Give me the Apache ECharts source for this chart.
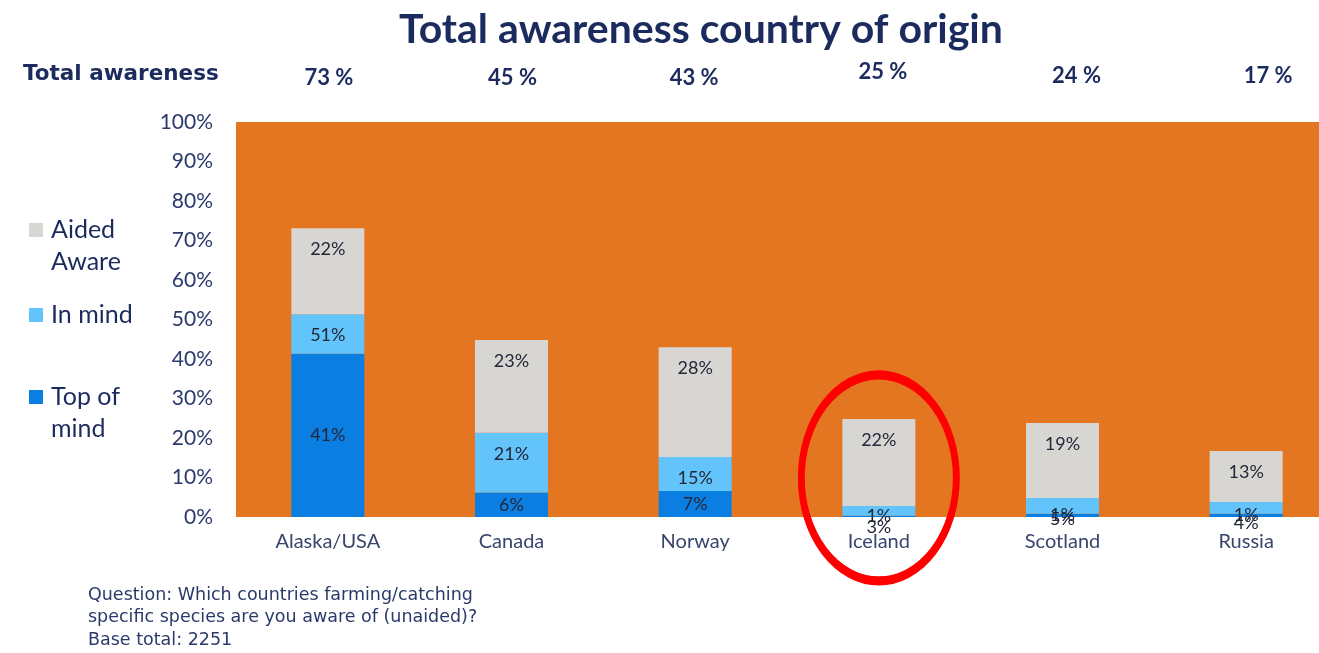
<!DOCTYPE html>
<html>
<head>
<meta charset="utf-8">
<script src="https://cdn.jsdelivr.net/npm/echarts@6/dist/echarts.min.js"></script>
<style>
  html, body { margin: 0; padding: 0; background: #fff; }
  #main { width: 1319px; height: 653px; }
</style>
</head>
<body>
<div id="main"></div>
<script>
// 国家/类目
var countries = ['Alaska/USA', 'Canada', 'Norway', 'Iceland', 'Scotland', 'Russia'];
// 顶部的总认知度
var totals = [73, 45, 43, 25, 24, 17];
// 每段柱子的高度
var topOfMind = [41.3, 6.2, 6.6, 0.3, 0.8, 0.8];
var inMind = [10, 15.1, 8.6, 2.5, 4.0, 3.0];
var aidedAware = [21.8, 23.5, 27.8, 22.0, 19.0, 12.9];
// 柱子上显示的文字
var topOfMindLabels = [41, 6, 7, 1, 1, 1];
var inMindLabels = [51, 21, 15, 3, 5, 4];
var aidedLabels = [22, 23, 28, 22, 19, 13];
// y轴刻度
var yTicks = [0, 10, 20, 30, 40, 50, 60, 70, 80, 90, 100];

var navy = '#1c2b5e';
var font = 'Lato, "Open Sans", sans-serif';

var myChart = echarts.init(document.getElementById('main'));

function barLabel(labels, pos, dist) {
	return {
		show: true,
		position: pos,
		distance: dist,
		color: '#232838',
		fontSize: 18,
		fontFamily: font,
		formatter: function (p) { return labels[p.dataIndex] + '%'; }
	};
}

var legendText = {
	color: navy,
	fontSize: 25,
	lineHeight: 32,
	fontFamily: font,
	padding: [0, 0, 0, 3]
};
// 两行的图例：方块对齐第一行（下方加一个看不见的小点把图标撑高）
var tallIcon = 'path://M0,0L14,0L14,14L0,14Z M0,45.99L0.01,45.99L0.01,46L0,46Z';

// 顶部百分比在原图里不是完全居中，稍微挪一下
var totalStyle = { color: navy, fontSize: 22, fontWeight: 'bold', fontFamily: font };
var totalRich = {
	t0: Object.assign({ padding: [0, 0, 0, 2] }, totalStyle),
	t1: Object.assign({ padding: [0, 0, 0, 2] }, totalStyle),
	t2: Object.assign({ padding: [0, 2, 0, 0] }, totalStyle),
	t3: Object.assign({ padding: [0, 0, 6, 8] }, totalStyle),
	t4: Object.assign({ padding: [0, 0, 2, 28] }, totalStyle),
	t5: Object.assign({ padding: [0, 0, 2, 44] }, totalStyle)
};

var option = {
	textStyle: { fontFamily: font },
	title: [
		{
			text: 'Total awareness country of origin',
			left: 394,
			top: 4,
			textStyle: { color: navy, fontSize: 41, fontWeight: 'bold', fontFamily: font }
		},
		{
			text: 'Total awareness',
			left: 18,
			top: 58,
			textStyle: { color: navy, fontSize: 21.5, fontWeight: 'bold', fontFamily: '"DejaVu Sans"' }
		},
		{
			text: 'Question: Which countries farming/catching\nspecific species are you aware of (unaided)?\nBase total: 2251',
			left: 83,
			top: 579,
			textStyle: { color: '#2b3a6a', fontSize: 17.5, lineHeight: 22.5, fontWeight: 'normal', fontFamily: '"DejaVu Sans"' }
		}
	],
	legend: [
		{
			data: ['Aided Aware'],
			formatter: 'Aided\nAware',
			left: 29, top: 214, padding: 0,
			icon: tallIcon, itemWidth: 14, itemHeight: 46,
			textStyle: legendText
		},
		{
			data: ['In mind'],
			left: 29, top: 299, padding: 0,
			icon: 'rect', itemWidth: 14, itemHeight: 14,
			textStyle: legendText
		},
		{
			data: ['Top of mind'],
			formatter: 'Top of\nmind',
			left: 29, top: 381, padding: 0,
			icon: tallIcon, itemWidth: 14, itemHeight: 46,
			textStyle: legendText
		}
	],
	grid: {
		left: 236,
		width: 1102,
		top: 122,
		bottom: 136,
		outerBoundsMode: 'none',
		containLabel: false,
		show: true,
		backgroundColor: '#e57621',
		borderWidth: 0
	},
	xAxis: [
		{
			type: 'category',
			data: countries,
			axisLine: { show: false },
			axisTick: { show: false },
			axisLabel: { color: '#39456e', fontSize: 20, margin: 15, fontFamily: font }
		},
		{
			type: 'category',
			data: countries,
			position: 'top',
			axisLine: { show: false },
			axisTick: { show: false },
			axisLabel: {
				color: navy,
				fontSize: 22,
				fontWeight: 'bold',
				margin: 33,
				fontFamily: font,
				formatter: function (v, i) { return '{t' + i + '|' + totals[i] + ' %}'; },
				rich: totalRich
			}
		}
	],
	yAxis: {
		type: 'value',
		min: yTicks[0],
		max: yTicks[yTicks.length - 1],
		interval: 10,
		splitLine: { show: false },
		axisLine: { show: false },
		axisTick: { show: false },
		axisLabel: { color: '#2c3a6b', fontSize: 21, margin: 23, fontFamily: font, formatter: '{value}%' }
	},
	series: [
		{
			name: 'Top of mind',
			type: 'bar',
			stack: 'total',
			barWidth: 73,
			itemStyle: { color: '#0b7ee2' },
			label: barLabel(topOfMindLabels, 'inside', 5),
			data: topOfMind,
			markPoint: {
				silent: true,
				symbol: 'circle',
				symbolSize: [155, 206],
				itemStyle: { color: 'rgba(0,0,0,0)', borderColor: '#ff0000', borderWidth: 8 },
				label: { show: false },
				data: [{ coord: ['Iceland', 9.9] }]
			}
		},
		{
			name: 'In mind',
			type: 'bar',
			stack: 'total',
			itemStyle: { color: '#62c4fa' },
			label: barLabel(inMindLabels, 'insideTop', 12),
			data: inMind
		},
		{
			name: 'Aided Aware',
			type: 'bar',
			stack: 'total',
			itemStyle: { color: '#d8d6d3' },
			label: barLabel(aidedLabels, 'insideTop', 12),
			data: aidedAware
		}
	]
};
myChart.setOption(option);
</script>
</body>
</html>
